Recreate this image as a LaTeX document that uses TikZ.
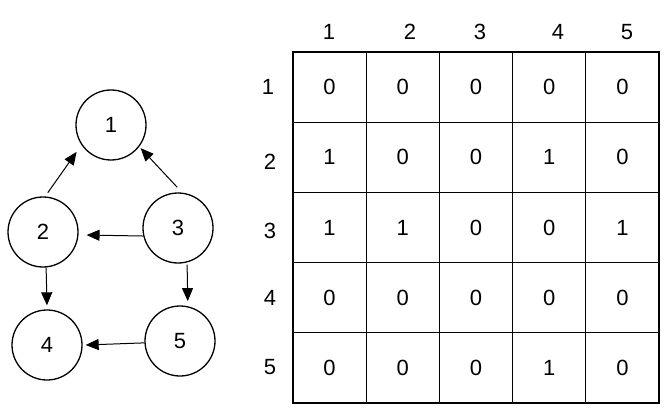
\documentclass[tikz,border=0pt]{standalone}
\usepackage{fontspec}
\setmainfont{Liberation Sans}
\usetikzlibrary{arrows.meta}
\newcommand{\digfont}{\fontsize{22pt}{24pt}\selectfont}
\begin{document}
\begin{tikzpicture}[x=1pt,y=-1pt,
  vert/.style={circle,draw,line width=1.3pt,minimum size=70pt,inner sep=0pt,font=\digfont},
  cell/.style={draw,line width=1.1pt,minimum width=73.2pt,minimum height=70.2pt,inner sep=0pt,font=\digfont},
  lbl/.style={inner sep=0pt,font=\digfont},
  arr/.style={line width=1pt,-{Triangle[length=13pt,width=11pt]}}]
\useasboundingbox (0,0) rectangle (671,414);
% graph
\node[vert] (n1) at (111,125) {1};
\node[vert] (n2) at (43,232) {2};
\node[vert] (n3) at (178,228) {3};
\node[vert] (n4) at (47,345) {4};
\node[vert] (n5) at (180,341) {5};
\draw[arr] ([shift={(83:4pt)}]n2.83) -- ([shift={(218:8pt)}]n1.218);
\draw[arr] ([shift={(91:5pt)}]n3.91) -- ([shift={(322:2pt)}]n1.322);
\draw[arr] (n3.193) -- ([shift={(-4:8pt)}]n2.-4);
\draw[arr] (n2.275) -- ([shift={(90:4pt)}]n4.90);
\draw[arr] ([shift={(284:2pt)}]n3.284) -- ([shift={(79:5pt)}]n5.79);
\draw[arr] (n5.183) -- ([shift={(0:3pt)}]n4.0);
% matrix
\foreach \r/\row in {1/{0,0,0,0,0},2/{1,0,0,1,0},3/{1,1,0,0,1},4/{0,0,0,0,0},5/{0,0,0,1,0}}{
  \foreach \v [count=\c] in \row {
    \node[cell] (m\r\c) at ({293+36.6+73.2*(\c-1)},{52+35.1+70.2*(\r-1)}) {\v};
  }
}
% headers
\node[lbl] (h1) at (329,32) {1};
\node[lbl] (h2) at (410,32) {2};
\node[lbl] (h3) at (480,32) {3};
\node[lbl] (h4) at (558,32) {4};
\node[lbl] (h5) at (627,32) {5};
\node[lbl] (r1) at (268,87) {1};
\node[lbl] (r2) at (270,162) {2};
\node[lbl] (r3) at (270,231) {3};
\node[lbl] (r4) at (270,298) {4};
\node[lbl] (r5) at (270,367) {5};
\end{tikzpicture}
\end{document}
